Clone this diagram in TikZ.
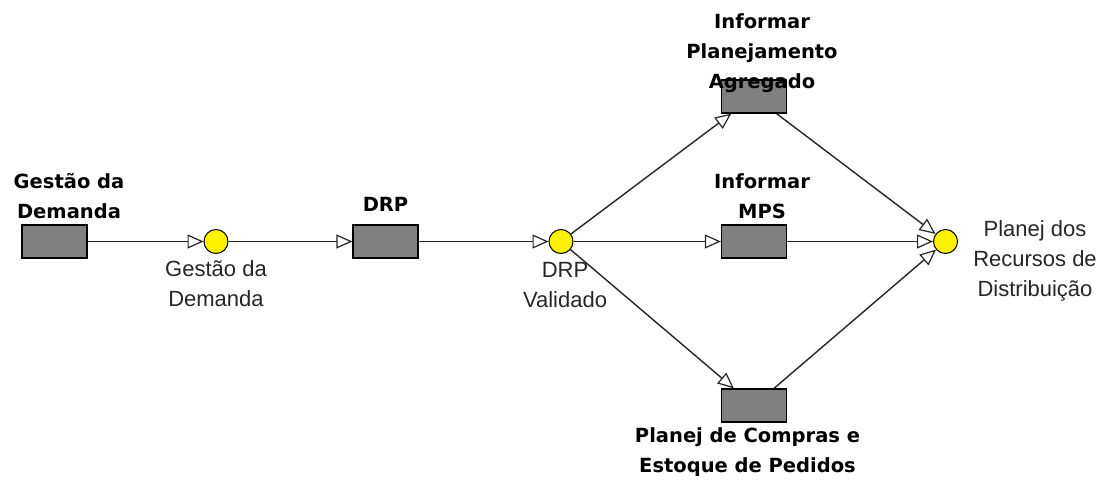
\documentclass[tikz,border=0pt]{standalone}
\usepackage{fontspec}
\setmainfont{Liberation Sans}
\newfontfamily\dvb{DejaVu Sans}
\usetikzlibrary{arrows.meta}
\begin{document}
\begin{tikzpicture}[x=1pt,y=-1pt,
  task/.style={draw=black,line width=1.3pt,fill=black!50,minimum width=65pt,minimum height=33pt,inner sep=0pt},
  place/.style={circle,draw=black,line width=1pt,fill=yellow,minimum size=24pt,inner sep=0pt},
  blab/.style={align=center,inner sep=0pt,font=\dvb\bfseries\fontsize{19.5}{30}\selectfont},
  rlab/.style={align=center,inner sep=0pt,font=\fontsize{22}{30}\selectfont,text=black!85},
  flow/.style={draw=black!85,line width=1.4pt,-{Triangle[length=16pt,width=14pt,fill=white,line width=1.2pt]}}]
\useasboundingbox (0,0) rectangle (1110,479);
\node[task] (gd) at (54.5,241.5) {};
\node[task] (drp) at (385.5,241.5) {};
\node[task] (ipa) at (754,96.5) {};
\node[task] (mps) at (754,241.5) {};
\node[task] (pce) at (754,405.5) {};
\node[place] (p1) at (216,241.5) {};
\node[place] (p2) at (561,241.5) {};
\node[place] (p3) at (945.5,241.5) {};
\draw[flow] (gd) -- (p1);
\draw[flow] (p1) -- (drp);
\draw[flow] (drp) -- (p2);
\draw[flow] (p2) -- (ipa);
\draw[flow] (p2) -- (mps);
\draw[flow] (p2) -- (pce);
\draw[flow] (ipa) -- (p3);
\draw[flow] (mps) -- (p3);
\draw[flow] (pce) -- (p3);
\node[blab] (lgd) at (69,196) {Gestão da\\Demanda};
\node[blab] (ldrp) at (385.5,204.5) {DRP};
\node[blab] (lipa) at (762,53.5) {Informar\\Planejamento\\Agregado};
\node[blab] (lmps) at (762,196) {Informar\\MPS};
\node[blab] (lpce) at (747.5,452.5) {Planej de Compras e\\Estoque de Pedidos};
\node[rlab] (lp1) at (216,283.5) {Gestão da\\Demanda};
\node[rlab] (lp2) at (565,285) {DRP\\Validado};
\node[rlab] (lp3) at (1035,261) {Planej dos\\Recursos de\\Distribuição};
\end{tikzpicture}
\end{document}
